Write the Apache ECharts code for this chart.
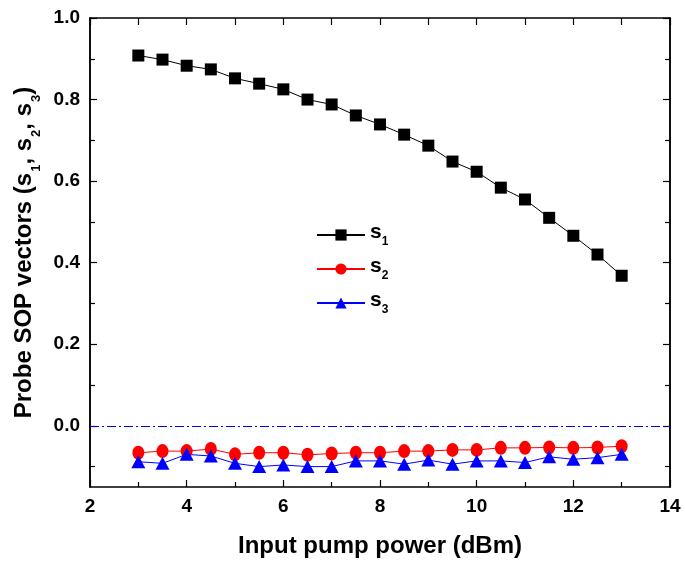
<!DOCTYPE html>
<html><head><meta charset="utf-8">
<script src="https://cdn.jsdelivr.net/npm/echarts@6/dist/echarts.min.js"></script>
<style>html,body{margin:0;padding:0;background:#fff}#c{width:685px;height:567px}</style>
</head><body><div id="c"></div>
<script>
const xValues = [3,3.5,4,4.5,5,5.5,6,6.5,7,7.5,8,8.5,9,9.5,10,10.5,11,11.5,12,12.5,13];
const s1 = [0.908,0.898,0.883,0.874,0.852,0.839,0.825,0.800,0.788,0.761,0.739,0.714,0.687,0.648,0.623,0.584,0.555,0.510,0.466,0.420,0.368];
const s2 = [-0.066,-0.062,-0.062,-0.057,-0.070,-0.066,-0.066,-0.071,-0.068,-0.066,-0.066,-0.062,-0.062,-0.059,-0.059,-0.054,-0.054,-0.053,-0.054,-0.053,-0.050];
const s3 = [-0.088,-0.092,-0.070,-0.074,-0.092,-0.100,-0.096,-0.100,-0.100,-0.086,-0.086,-0.094,-0.084,-0.094,-0.086,-0.086,-0.090,-0.076,-0.082,-0.078,-0.070];
const yMajor = [0,0.2,0.4,0.6,0.8,1.0];
const yMinor = [-0.1,0.1,0.3,0.5,0.7,0.9];
const zeroLine = 0;
const seriesNames = ['s1','s2','s3'];
const subs = {s1:'1', s2:'2', s3:'3'};

const FONT = 'Liberation Sans';
const pair = arr => xValues.map((x,i)=>[x,arr[i]]);
const chart = echarts.init(document.getElementById('c'));
const axisLine = {show:true, onZero:false, lineStyle:{color:'#000', width:1.5}};
function yAx(pos, ticks, len, labels){
  return {type:'value', position:pos, min:-0.15, max:1.0, splitLine:{show:false},
    axisLine, axisTick:{show:true, inside:true, length:len, customValues:ticks, lineStyle:{color:'#000',width:1.2}},
    axisLabel: labels ? {show:true, customValues:yMajor, formatter:v=>v.toFixed(1), fontFamily:FONT, fontWeight:'bold', fontSize:19, color:'#000', margin:10} : {show:false}};
}
const yAxes = [yAx('left', yMajor, 7, true), yAx('left', yMinor, 5, false), yAx('right', yMajor, 7, false), yAx('right', yMinor, 5, false)];
yAxes[0].name = '{m|Probe SOP vectors (s}{s|1}{m|, s}{s|2}{m|, s}{s|3}{m|)}';
yAxes[0].nameLocation = 'middle';
yAxes[0].nameGap = 43;
yAxes[0].nameTextStyle = {rich:{
  m:{fontFamily:FONT, fontWeight:'bold', fontSize:24, color:'#000', lineHeight:30, verticalAlign:'top'},
  s:{fontFamily:FONT, fontWeight:'bold', fontSize:13, color:'#000', lineHeight:30, verticalAlign:'bottom', padding:[0,0,0,1]}}};

const option = {
  animation:false,
  backgroundColor:'#fff',
  grid:{left:90, right:15, top:18, bottom:80},
  legend:{orient:'vertical', left:311, top:217, itemWidth:48, itemHeight:14, itemGap:8,
    data:seriesNames,
    formatter: n => '{b|s}{s|' + subs[n] + '}',
    textStyle:{rich:{b:{fontFamily:FONT, fontWeight:'bold', fontSize:21, color:'#000', lineHeight:24, verticalAlign:'top'},
      s:{fontFamily:FONT, fontWeight:'bold', fontSize:12, color:'#000', lineHeight:26, verticalAlign:'bottom'}}}},
  xAxis:[
    {type:'value', position:'bottom', min:2, max:14, interval:2, splitLine:{show:false}, axisLine,
     axisTick:{inside:true, length:7, lineStyle:{color:'#000',width:1.2}},
     minorTick:{show:true, splitNumber:2, length:5, lineStyle:{color:'#000',width:1.2}},
     axisLabel:{fontFamily:FONT, fontWeight:'bold', fontSize:19, color:'#000', margin:10},
     name:'Input pump power (dBm)', nameLocation:'middle', nameGap:47,
     nameTextStyle:{fontFamily:FONT, fontWeight:'bold', fontSize:24, color:'#000'}},
    {type:'value', position:'top', min:2, max:14, interval:2, splitLine:{show:false}, axisLine,
     axisTick:{inside:true, length:7, lineStyle:{color:'#000',width:1.2}},
     minorTick:{show:true, splitNumber:2, length:7, lineStyle:{color:'#000',width:1.2}},
     axisLabel:{show:false}}
  ],
  yAxis:yAxes,
  series:[
    {name:'s1', type:'line', data:pair(s1), symbol:'rect', symbolSize:[12,12], color:'#000',
     lineStyle:{color:'#000', width:1}, itemStyle:{color:'#000'}},
    {name:'s2', type:'line', data:pair(s2), symbol:'circle', symbolSize:[12,14], color:'#ff0000',
     lineStyle:{color:'#ff0000', width:1}, itemStyle:{color:'#ff0000'}},
    {name:'s3', type:'line', data:pair(s3), symbol:'triangle', symbolSize:[14,13], color:'#0000ff',
     lineStyle:{color:'#0000ff', width:1}, itemStyle:{color:'#0000ff'},
     markLine:{silent:true, symbol:'none', label:{show:false},
       lineStyle:{color:'#0000ff', width:1.2, type:[9,3,2,3]}, data:[{yAxis:zeroLine}]}}
  ]
};
chart.setOption(option);
</script></body></html>
